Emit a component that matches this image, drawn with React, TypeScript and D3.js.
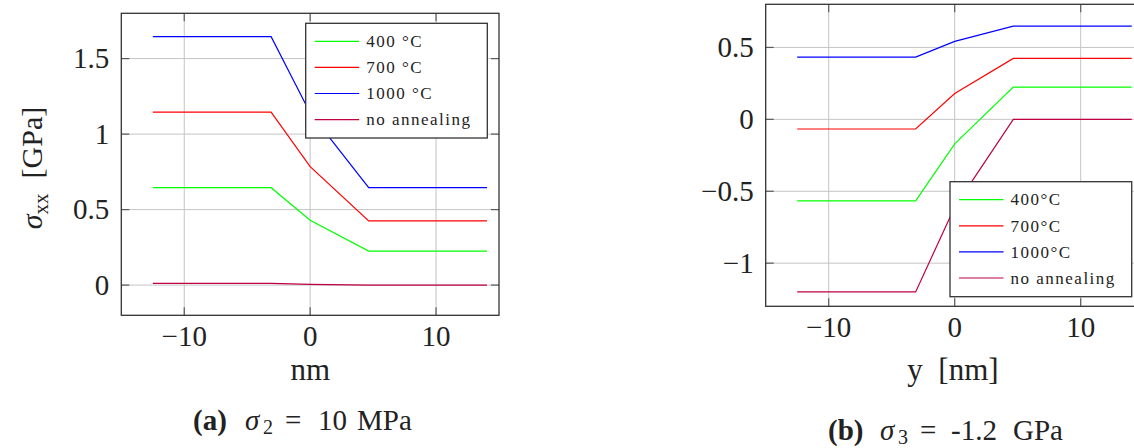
import React from 'react';
import * as d3 from 'd3';

// ---------- data ----------
const positions = [-12.5, -3.1, 0, 4.65, 14.05];

const legendA = ['400 °C', '700 °C', '1000 °C', 'no annealing'];
const legendB = ['400°C', '700°C', '1000°C', 'no annealing'];
const seriesColors = ['#00ff00', '#ff0000', '#0000ff', '#bf0040'];

// panel (a): sigma_2 = 10 MPa
const a400 = [0.645, 0.645, 0.43, 0.225, 0.225];
const a700 = [1.145, 1.145, 0.785, 0.425, 0.425];
const a1000 = [1.645, 1.645, 1.14, 0.645, 0.645];
const aNone = [0.012, 0.012, 0.005, 0, 0];

// panel (b): sigma_3 = -1.2 GPa
const b400 = [-0.567, -0.567, -0.171, 0.224, 0.224];
const b700 = [-0.067, -0.067, 0.18, 0.424, 0.424];
const b1000 = [0.433, 0.433, 0.542, 0.648, 0.648];
const bNone = [-1.2, -1.2, -0.61, 0, 0];

const xTicks = [-10, 0, 10];
const aYTicks = [0, 0.5, 1, 1.5];
const bYTicks = [-1, -0.5, 0, 0.5];

const FONT = 'Liberation Serif';
const fmt = (v: number) => (v < 0 ? '\u2212' + Math.abs(v) : String(v));

type PanelProps = {
  box: { left: number; right: number; top: number; bottom: number };
  yDomain: [number, number];
  yTicks: number[];
  series: number[][];
  names: string[];
  legend: { left: number; top: number; width: number; height: number };
};

function Panel({ box, yDomain, yTicks, series, names, legend }: PanelProps) {
  const x = d3.scaleLinear().domain([-15, 15]).range([box.left, box.right]);
  const y = d3.scaleLinear().domain(yDomain).range([box.bottom, box.top]);
  const line = d3
    .line<number>()
    .x((_, i) => x(positions[i]))
    .y((d) => y(d));
  const tickLen = 8;
  const grid = '#c4c4c4';
  const tickCol = '#5a5a5a';
  return (
    <g>
      {/* grid */}
      {xTicks.map((t) => (
        <line key={'gx' + t} x1={x(t)} x2={x(t)} y1={box.top} y2={box.bottom} stroke={grid} strokeWidth={1} />
      ))}
      {yTicks.map((t) => (
        <line key={'gy' + t} x1={box.left} x2={box.right} y1={y(t)} y2={y(t)} stroke={grid} strokeWidth={1} />
      ))}
      {/* ticks */}
      {xTicks.map((t) => (
        <g key={'tx' + t}>
          <line x1={x(t)} x2={x(t)} y1={box.bottom} y2={box.bottom - tickLen} stroke={tickCol} strokeWidth={1.2} />
          <line x1={x(t)} x2={x(t)} y1={box.top} y2={box.top + tickLen} stroke={tickCol} strokeWidth={1.2} />
          <text x={x(t)} y={box.bottom + 31} textAnchor="middle" fontFamily={FONT} fontSize={29} fill="#222">
            {fmt(t)}
          </text>
        </g>
      ))}
      {yTicks.map((t) => (
        <g key={'ty' + t}>
          <line x1={box.left} x2={box.left + tickLen} y1={y(t)} y2={y(t)} stroke={tickCol} strokeWidth={1.2} />
          <line x1={box.right} x2={box.right - tickLen} y1={y(t)} y2={y(t)} stroke={tickCol} strokeWidth={1.2} />
          <text x={box.left - 12} y={y(t)} dy="0.34em" textAnchor="end" fontFamily={FONT} fontSize={29} fill="#222">
            {fmt(t)}
          </text>
        </g>
      ))}
      {/* data */}
      {series.map((s, i) => (
        <path key={'s' + i} d={line(s) || ''} fill="none" stroke={seriesColors[i]} strokeWidth={1.2} />
      ))}
      {/* frame */}
      <rect
        x={box.left}
        y={box.top}
        width={box.right - box.left}
        height={box.bottom - box.top}
        fill="none"
        stroke="#333"
        strokeWidth={1.3}
      />
      {/* legend */}
      <rect
        x={legend.left}
        y={legend.top}
        width={legend.width}
        height={legend.height}
        fill="#fff"
        stroke="#333"
        strokeWidth={1.3}
      />
      {names.map((n, i) => {
        const ry = legend.top + 18 + i * 26.1;
        return (
          <g key={'l' + i}>
            <line x1={legend.left + 9} x2={legend.left + 53.5} y1={ry} y2={ry} stroke={seriesColors[i]} strokeWidth={1.2} />
            <text
              x={legend.left + 60.5}
              y={ry}
              dy="0.34em"
              fontFamily={FONT}
              fontSize={17}
              letterSpacing={1.5}
              fill="#222"
            >
              {n}
            </text>
          </g>
        );
      })}
    </g>
  );
}

export default function App() {
  return (
    <svg
      width={1134}
      height={448}
      style={{ position: 'absolute', left: 0, top: 0, background: '#fff' }}
      xmlns="http://www.w3.org/2000/svg"
    >
      <rect x={0} y={0} width={1134} height={448} fill="#fff" />
      <Panel
        box={{ left: 121.3, right: 499, top: 13.3, bottom: 315.3 }}
        yDomain={[-0.2, 1.8]}
        yTicks={aYTicks}
        series={[a400, a700, a1000, aNone]}
        names={legendA}
        legend={{ left: 305.7, top: 23.3, width: 181.6, height: 114.7 }}
      />
      <Panel
        box={{ left: 765.7, right: 1143.7, top: 4.3, bottom: 306.3 }}
        yDomain={[-1.3, 0.8]}
        yTicks={bYTicks}
        series={[b400, b700, b1000, bNone]}
        names={legendB}
        legend={{ left: 950, top: 181.7, width: 181.7, height: 115 }}
      />
      {/* axis labels (a) */}
      <text
        transform="translate(42,168) rotate(-90)"
        textAnchor="middle"
        fontFamily={FONT}
        fontSize={30}
        fill="#222"
      >
        <tspan fontStyle="italic">σ</tspan>
        <tspan fontSize={21} dy={6}>xx</tspan>
        <tspan dy={-6}>{'\u00a0\u00a0[GPa]'}</tspan>
      </text>
      <text x={310.3} y={380} textAnchor="middle" fontFamily={FONT} fontSize={31} fill="#222">
        nm
      </text>
      {/* axis labels (b) */}
      <text x={953} y={380} textAnchor="middle" fontFamily={FONT} fontSize={31} fill="#222">
        {'y\u00a0\u00a0[nm]'}
      </text>
      {/* captions */}
      <text y={430} fontFamily={FONT} fontSize={29} fill="#222">
        <tspan x={193} fontWeight="bold">(a)</tspan>
        <tspan x={245} fontStyle="italic">σ</tspan>
        <tspan x={263} dy={4} fontSize={20}>2</tspan>
        <tspan x={285} dy={-4}>=</tspan>
        <tspan x={318}>10</tspan>
        <tspan x={357}>MPa</tspan>
      </text>
      <text y={440} fontFamily={FONT} fontSize={29} fill="#222">
        <tspan x={828} fontWeight="bold">(b)</tspan>
        <tspan x={880} fontStyle="italic">σ</tspan>
        <tspan x={898} dy={4} fontSize={20}>3</tspan>
        <tspan x={920} dy={-4}>=</tspan>
        <tspan x={951}>-1.2</tspan>
        <tspan x={1013}>GPa</tspan>
      </text>
    </svg>
  );
}
